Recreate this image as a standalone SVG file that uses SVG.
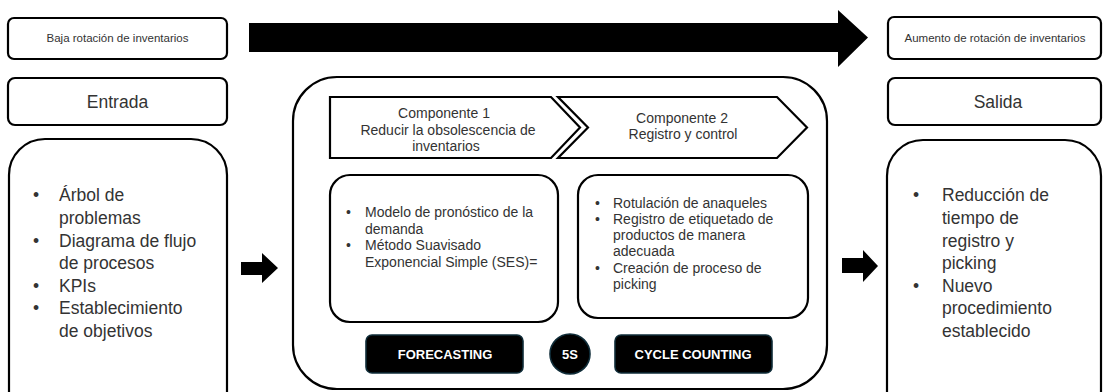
<svg xmlns="http://www.w3.org/2000/svg" width="1103" height="392" viewBox="0 0 1103 392">
<style>
.box{fill:#fff;stroke:#000;stroke-width:2.2}
.t{font-family:"Liberation Sans",Arial,sans-serif;fill:#333}
.big{font-size:17.5px}
.mid{font-size:14px}
.sm{font-size:11.5px}
.pill{fill:#000;stroke:#0f2c38;stroke-width:1.6}
.pt{font-family:"Liberation Sans",Arial,sans-serif;font-weight:bold;font-size:13px;fill:#fff;text-anchor:middle}
.arrow{fill:#000}
</style>
<rect width="1103" height="392" fill="#fff"/>
<g id="baja">
<rect class="box" x="8" y="18" width="219" height="41" rx="6"/>
<text class="t sm" x="117.5" y="41.5" text-anchor="middle">Baja rotación de inventarios</text>
</g>
<g id="aumento">
<rect class="box" x="888" y="17" width="213" height="42" rx="6"/>
<text class="t sm" x="995" y="41.5" text-anchor="middle">Aumento de rotación de inventarios</text>
</g>
<g id="entrada">
<rect class="box" x="8" y="78" width="219" height="47" rx="7"/>
<text class="t big" x="117.5" y="108" text-anchor="middle">Entrada</text>
</g>
<g id="salida">
<rect class="box" x="888" y="78" width="213" height="47" rx="7"/>
<text class="t big" x="998" y="108" text-anchor="middle">Salida</text>
</g>
<g id="entrada-lista">
<rect class="box" x="9" y="139" width="218" height="290" rx="36"/>
<g class="t big">
<text x="33" y="201">•</text><text x="59" y="201">Árbol de</text>
<text x="59" y="223.5">problemas</text>
<text x="33" y="246.5">•</text><text x="59" y="246.5">Diagrama de flujo</text>
<text x="59" y="269">de procesos</text>
<text x="33" y="291.5">•</text><text x="59" y="291.5">KPIs</text>
<text x="33" y="314">•</text><text x="59" y="314">Establecimiento</text>
<text x="59" y="337">de objetivos</text>
</g>
</g>
<g id="salida-lista">
<rect class="box" x="887" y="140" width="214" height="290" rx="36"/>
<g class="t big">
<text x="913" y="201">•</text><text x="942" y="201">Reducción de</text>
<text x="942" y="224">tiempo de</text>
<text x="942" y="247">registro y</text>
<text x="942" y="269">picking</text>
<text x="913" y="292">•</text><text x="942" y="292">Nuevo</text>
<text x="942" y="314">procedimiento</text>
<text x="942" y="337">establecido</text>
</g>
</g>
<g id="proceso">
<rect class="box" x="293" y="77" width="534" height="312" rx="44"/>
</g>
<g id="componente1">
<polygon class="box" points="330,97 551,97 580,127.5 551,158 330,158"/>
<g class="t mid" text-anchor="middle">
<text x="444" y="118">Componente 1</text>
<text x="448" y="134.5">Reducir la obsolescencia de</text>
<text x="446" y="150.5">inventarios</text>
</g>
</g>
<g id="componente2">
<polygon class="box" points="558,97 777,97 807,127.5 777,158 558,158 588,127.5"/>
<g class="t mid" text-anchor="middle">
<text x="682" y="123">Componente 2</text>
<text x="683" y="139">Registro y control</text>
</g>
</g>
<g id="detalle1">
<rect class="box" x="330" y="175" width="228" height="147" rx="20"/>
<g class="t mid">
<text x="346" y="217">•</text><text x="365" y="217">Modelo de pronóstico de la</text>
<text x="365" y="233.5">demanda</text>
<text x="346" y="250">•</text><text x="365" y="250">Método Suavisado</text>
<text x="365" y="266.5">Exponencial Simple (SES)=</text>
</g>
</g>
<g id="detalle2">
<rect class="box" x="578" y="175" width="230" height="143" rx="20"/>
<g class="t mid">
<text x="595" y="208">•</text><text x="613" y="208">Rotulación de anaqueles</text>
<text x="595" y="224">•</text><text x="613" y="224">Registro de etiquetado de</text>
<text x="613" y="240">productos de manera</text>
<text x="613" y="256">adecuada</text>
<text x="595" y="273">•</text><text x="613" y="273">Creación de proceso de</text>
<text x="613" y="289">picking</text>
</g>
</g>
<g id="forecasting">
<rect class="pill" x="366" y="335" width="157" height="38" rx="6"/>
<text class="pt" x="445" y="358.5">FORECASTING</text>
</g>
<g id="s5">
<circle class="pill" cx="570" cy="354" r="20"/>
<text class="pt" x="570" y="358.5">5S</text>
</g>
<g id="cycle">
<rect class="pill" x="615" y="335" width="157" height="38" rx="6"/>
<text class="pt" x="693" y="358.5">CYCLE COUNTING</text>
</g>
<g id="connectors">
<polygon class="arrow" points="249,23 838,23 838,10 868,37.5 838,67 838,52 249,52"/>
<polygon class="arrow" points="241,262 262,262 262,253 278,268 262,283 262,275 241,275"/>
<polygon class="arrow" points="842,258 863,258 863,250 878,266 863,282 863,273 842,273"/>
</g>
</svg>
